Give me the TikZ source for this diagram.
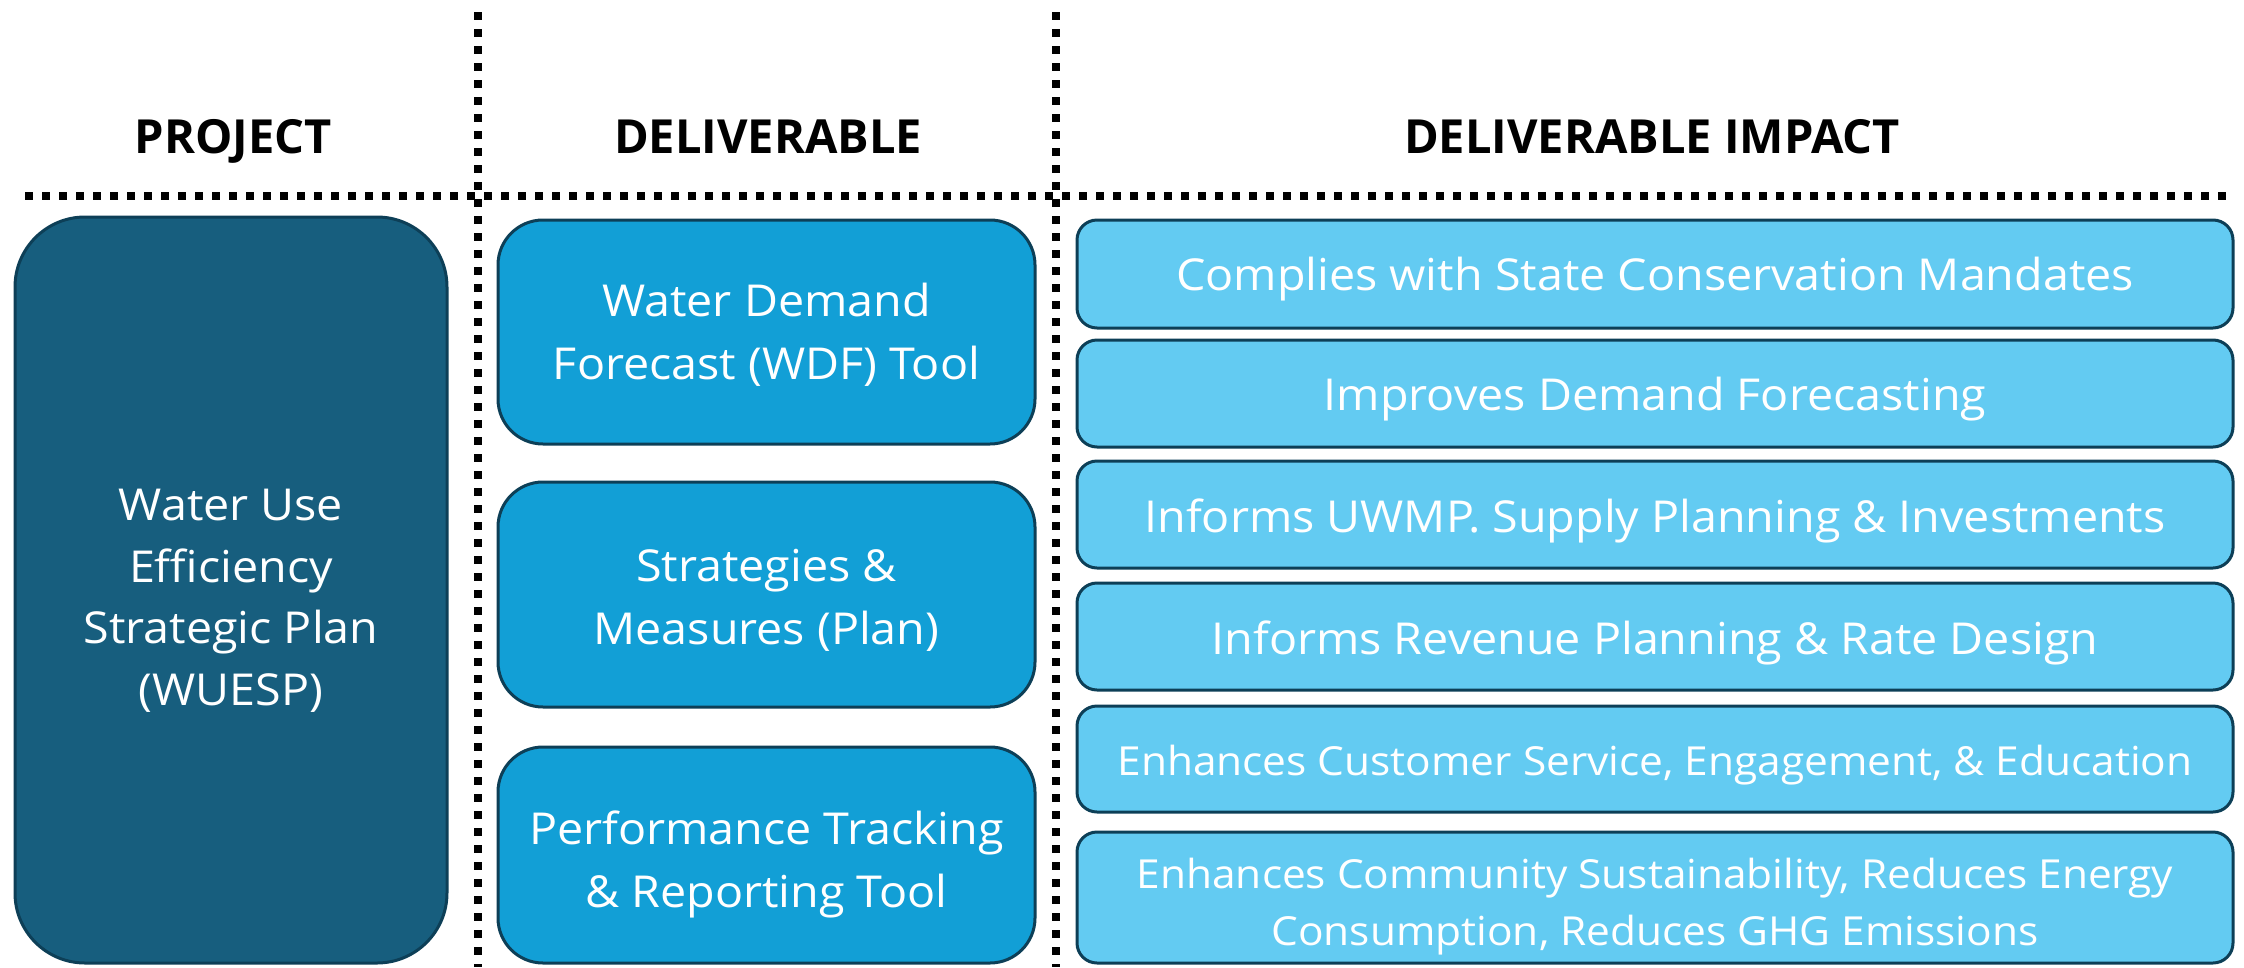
\documentclass[tikz,border=0pt]{standalone}
\usepackage{fontspec}
\setmainfont{Open Sans}
\newfontfamily\bodyfam[FakeStretch=1.06]{Open Sans}
\definecolor{projfill}{HTML}{175E7E}
\definecolor{delivfill}{HTML}{129FD6}
\definecolor{impactfill}{HTML}{63CBF2}
\definecolor{edgecol}{HTML}{0D3F57}
\newcommand\hdrfont{\fontsize{47}{54}\selectfont\bfseries}
\newcommand\bodyfont{\bodyfam\fontsize{44}{63}\selectfont}
\newcommand\projfont{\bodyfam\fontsize{44}{61.5}\selectfont}
\newcommand\smallbodyfont{\bodyfam\fontsize{40}{57}\selectfont}
\tikzset{
  dotline/.style={line width=8pt, dash pattern=on 8pt off 9pt, black},
  hdr/.style={anchor=base, text=black, font=\hdrfont, inner sep=0pt},
  basebox/.style={draw=edgecol, line width=3pt, inner sep=0pt},
  boxtext/.style={text=white, align=center, inner sep=0pt, font=\bodyfont},
  projbox/.style={basebox, fill=projfill, rounded corners=70pt},
  delivbox/.style={basebox, fill=delivfill, rounded corners=45pt, minimum width=537pt},
  impactbox/.style={basebox, fill=impactfill, rounded corners=20pt, minimum width=1156pt},
}
\begin{document}
\begin{tikzpicture}[x=1pt,y=-1pt]
\useasboundingbox (0,0) rectangle (2244,967);
% dotted grid
\coordinate (v1t) at (478,12); \coordinate (v1b) at (478,967);
\coordinate (v2t) at (1056,12); \coordinate (v2b) at (1056,967);
\coordinate (hl) at (25,196); \coordinate (hr) at (2232,196);
\draw[dotline] (v1t) -- (v1b);
\draw[dotline] (v2t) -- (v2b);
\draw[dotline] (hl) -- (hr);
% headers
\node[hdr] (hproj) at (233,153) {PROJECT};
\node[hdr] (hdel) at (768,153) {DELIVERABLE};
\node[hdr] (himp) at (1652,153) {DELIVERABLE IMPACT};
% project
\node[projbox, minimum width=432pt, minimum height=746pt] (proj) at (231,590) {};
\node[boxtext, font=\projfont, yshift=-11pt] (projt) at (proj.center)
  {Water Use\\Efficiency\\Strategic Plan\\(WUESP)};
% deliverables
\node[delivbox, minimum height=224pt] (d1) at (766.5,332) {};
\node[boxtext, yshift=-3pt] (d1t) at (d1.center) {Water Demand\\Forecast (WDF) Tool};
\node[delivbox, minimum height=225pt] (d2) at (766.5,594.5) {};
\node[boxtext, yshift=-6pt] (d2t) at (d2.center) {Strategies \&\\Measures (Plan)};
\node[delivbox, minimum height=216pt] (d3) at (766.5,855) {};
\node[boxtext, yshift=-9pt] (d3t) at (d3.center) {Performance Tracking\\\& Reporting Tool};
% impacts
\node[impactbox, minimum height=108pt] (i1) at (1655,274) {};
\node[boxtext, yshift=-5pt] (i1t) at (i1.center) {Complies with State Conservation Mandates};
\node[impactbox, minimum height=107pt] (i2) at (1655,393.5) {};
\node[boxtext, yshift=-6pt] (i2t) at (i2.center) {Improves Demand Forecasting};
\node[impactbox, minimum height=107pt] (i3) at (1655,514.5) {};
\node[boxtext, yshift=-6pt] (i3t) at (i3.center) {Informs UWMP. Supply Planning \& Investments};
\node[impactbox, minimum height=107pt] (i4) at (1655,636.5) {};
\node[boxtext, yshift=-6pt] (i4t) at (i4.center) {Informs Revenue Planning \& Rate Design};
\node[impactbox, minimum height=106pt] (i5) at (1655,759) {};
\node[boxtext, font=\smallbodyfont, yshift=-6pt] (i5t) at (i5.center) {Enhances Customer Service, Engagement, \& Education};
\node[impactbox, minimum height=131pt] (i6) at (1655,897.5) {};
\node[boxtext, font=\smallbodyfont, yshift=-9pt] (i6t) at (i6.center) {Enhances Community Sustainability, Reduces Energy\\Consumption, Reduces GHG Emissions};
\end{tikzpicture}
\end{document}
